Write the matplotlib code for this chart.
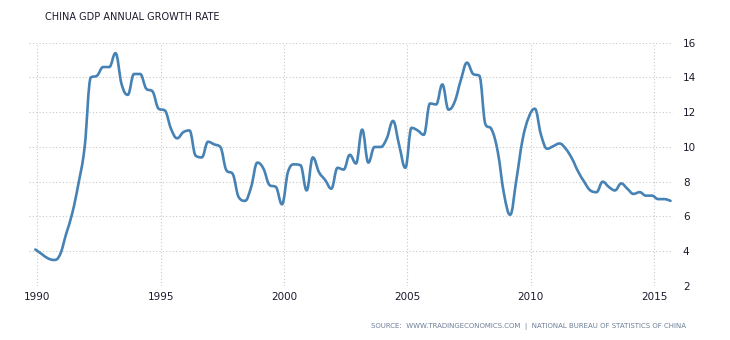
import numpy as np
import pandas as pd
import matplotlib
matplotlib.use("Agg")
import matplotlib.pyplot as plt
from matplotlib.path import Path
from matplotlib.patches import PathPatch

# quarterly GDP growth, % year on year (1989Q4 .. 2015Q3)
first_quarter = "1989Q4"
last_quarter = "2015Q3"
growth = [
    4.1,
    3.85, 3.6, 3.5, 3.8,        # 1990
    5.0, 6.2, 7.9, 10.0,        # 1991
    14.0, 14.1, 14.6, 14.6,     # 1992
    15.4, 13.6, 13.0, 14.2,     # 1993
    14.2, 13.35, 13.2, 12.2,    # 1994
    12.1, 11.05, 10.5, 10.85,   # 1995
    10.95, 9.5, 9.4, 10.3,      # 1996
    10.15, 10.0, 8.65, 8.45,    # 1997
    7.1, 6.9, 7.7, 9.1,         # 1998
    8.75, 7.8, 7.7, 6.7,        # 1999
    8.6, 9.0, 8.95, 7.5,        # 2000
    9.4, 8.55, 8.1, 7.6,        # 2001
    8.8, 8.7, 9.55, 9.05,       # 2002
    11.0, 9.1, 10.0, 10.0,      # 2003
    10.5, 11.5, 10.1, 8.8,      # 2004
    11.1, 10.95, 10.7, 12.5,    # 2005
    12.45, 13.6, 12.15, 12.6,   # 2006
    13.85, 14.85, 14.2, 14.1,   # 2007
    11.3, 11.0, 9.7, 7.3,       # 2008
    6.1, 8.1, 10.4, 11.7,       # 2009
    12.2, 10.7, 9.9, 10.05,     # 2010
    10.2, 9.9, 9.35, 8.6,       # 2011
    8.0, 7.5, 7.4, 8.0,         # 2012
    7.7, 7.5, 7.9, 7.6,         # 2013
    7.3, 7.4, 7.2, 7.2,         # 2014
    7.0, 7.0, 6.9,              # 2015
]
year_ticks = [1990, 1995, 2000, 2005, 2010, 2015]
value_ticks = [2, 4, 6, 8, 10, 12, 14, 16]

title = "CHINA GDP ANNUAL GROWTH RATE"
source = "SOURCE:  WWW.TRADINGECONOMICS.COM  |  NATIONAL BUREAU OF STATISTICS OF CHINA"

quarters = pd.period_range(first_quarter, last_quarter, freq="Q")
# points sit on the first day of the last month of each quarter
x = np.array([q.year + (q.end_time.month - 1) / 12 for q in quarters])
y = np.array(growth, dtype=float)


def spline_path(px, py, smoothing=1.5):
    # same smoothing as a highcharts "spline" series
    n = len(px)
    denom = smoothing + 1
    rc = [None] * n
    verts = [(px[0], py[0])]
    codes = [Path.MOVETO]
    for i in range(1, n):
        lx, ly = px[i - 1], py[i - 1]
        cx, cy = px[i], py[i]
        lcx, lcy = cx, cy
        if i < n - 1:
            nx, ny = px[i + 1], py[i + 1]
            lcx = (smoothing * cx + lx) / denom
            lcy = (smoothing * cy + ly) / denom
            rcx = (smoothing * cx + nx) / denom
            rcy = (smoothing * cy + ny) / denom
            corr = (rcy - lcy) * (rcx - cx) / (rcx - lcx) + cy - rcy
            lcy += corr
            rcy += corr
            if lcy > ly and lcy > cy:
                lcy = max(ly, cy)
                rcy = 2 * cy - lcy
            elif lcy < ly and lcy < cy:
                lcy = min(ly, cy)
                rcy = 2 * cy - lcy
            if rcy > ny and rcy > cy:
                rcy = max(ny, cy)
                lcy = 2 * cy - rcy
            elif rcy < ny and rcy < cy:
                rcy = min(ny, cy)
                lcy = 2 * cy - rcy
            rc[i] = (rcx, rcy)
        prev = rc[i - 1] if rc[i - 1] is not None else (lx, ly)
        verts += [prev, (lcx, lcy), (cx, cy)]
        codes += [Path.CURVE4] * 3
    return Path(verts, codes)


fig = plt.figure(figsize=(7.3, 3.4), dpi=100)
ax = fig.add_axes([0.0397, 0.1588, 0.922 - 0.0397, 0.8744 - 0.1588])

ax.add_patch(PathPatch(spline_path(x, y), facecolor="none", edgecolor="#4682b4",
                       lw=1.9, capstyle="round", joinstyle="round", zorder=3))

ax.set_xlim(1989.66, 2015.77)
ax.set_ylim(2, 16)
ax.set_xticks(year_ticks)
ax.set_yticks(value_ticks)
ax.yaxis.tick_right()
ax.tick_params(length=0, labelsize=7.5, labelcolor="#1a1a2e")
ax.tick_params(axis="y", pad=7)
ax.tick_params(axis="x", pad=4)
for s in ax.spines.values():
    s.set_visible(False)
ax.grid(True, color="#c8c8c8", lw=0.8, ls=(0, (1, 2)))
ax.set_axisbelow(True)

fig.text(45 / 730, 1 - 17 / 340, title, fontsize=7.0, color="#1a1a2e",
         ha="left", va="center")
fig.text(686 / 730, 1 - 326 / 340, source, fontsize=5, color="#6d7f96",
         ha="right", va="center")

fig.savefig("out.png", dpi=100, facecolor="white")
